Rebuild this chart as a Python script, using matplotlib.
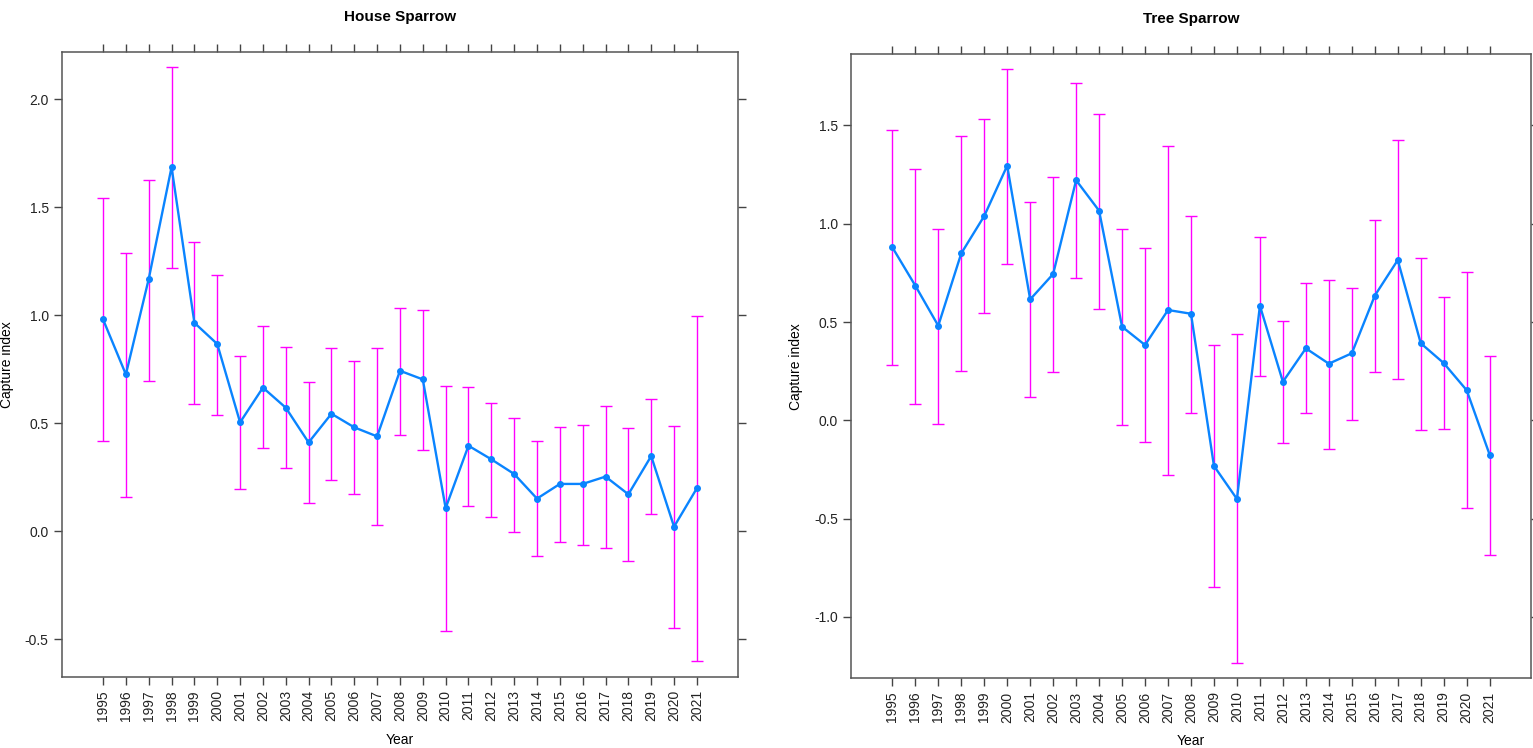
import numpy as np
import matplotlib.pyplot as plt

plt.rcParams['font.family'] = ['Liberation Sans', 'DejaVu Sans']
plt.rcParams['axes.unicode_minus'] = False

years = list(range(1995, 2022))

# House Sparrow capture index with lower / upper limits
house_idx = [0.98, 0.725, 1.167, 1.685, 0.964, 0.866, 0.503, 0.664, 0.571, 0.41,
             0.543, 0.48, 0.438, 0.742, 0.702, 0.106, 0.395, 0.332, 0.264, 0.15,
             0.218, 0.218, 0.252, 0.17, 0.347, 0.02, 0.198]
house_lo = [0.415, 0.159, 0.694, 1.218, 0.588, 0.537, 0.194, 0.384, 0.29, 0.13,
            0.235, 0.171, 0.026, 0.443, 0.377, -0.463, 0.116, 0.065, -0.005, -0.117,
            -0.052, -0.065, -0.077, -0.139, 0.077, -0.451, -0.602]
house_hi = [1.54, 1.286, 1.626, 2.147, 1.336, 1.187, 0.812, 0.947, 0.852, 0.691,
            0.847, 0.786, 0.847, 1.034, 1.022, 0.67, 0.667, 0.591, 0.525, 0.415,
            0.481, 0.489, 0.577, 0.478, 0.611, 0.485, 0.995]

# Tree Sparrow
tree_idx = [0.88, 0.685, 0.481, 0.849, 1.039, 1.295, 0.615, 0.744, 1.221, 1.066,
            0.476, 0.383, 0.561, 0.542, -0.232, -0.4, 0.583, 0.196, 0.366, 0.288,
            0.341, 0.634, 0.815, 0.392, 0.291, 0.153, -0.175]
tree_lo = [0.281, 0.081, -0.019, 0.249, 0.544, 0.795, 0.12, 0.246, 0.722, 0.566,
           -0.022, -0.112, -0.277, 0.039, -0.848, -1.236, 0.225, -0.117, 0.036, -0.148,
           0.003, 0.247, 0.208, -0.049, -0.044, -0.446, -0.683]
tree_hi = [1.475, 1.28, 0.971, 1.445, 1.534, 1.785, 1.109, 1.238, 1.714, 1.556,
           0.971, 0.876, 1.395, 1.038, 0.381, 0.437, 0.934, 0.505, 0.697, 0.714,
           0.671, 1.02, 1.424, 0.824, 0.626, 0.753, 0.326]

house_ticks = [-0.5, 0.0, 0.5, 1.0, 1.5, 2.0]
tree_ticks = [-1.0, -0.5, 0.0, 0.5, 1.0, 1.5]


def panel(ax, title, idx, lo, hi, yticks, ylim):
    idx = np.array(idx)
    err = [idx - np.array(lo), np.array(hi) - idx]
    ax.errorbar(years, idx, yerr=err, fmt='none', ecolor='#ff00ff',
                elinewidth=1.0, capsize=4.3, capthick=1.0, zorder=2)
    ax.plot(years, idx, '-o', color='#0a84ff', lw=1.7, ms=4, zorder=3)
    ax.set_xlim(1993.2, 2022.8)
    ax.set_ylim(*ylim)
    ax.set_xticks(years)
    ax.set_xticklabels([str(y) for y in years], rotation=90, fontsize=10)
    ax.set_yticks(yticks)
    ax.set_yticklabels(['%.1f' % t for t in yticks], fontsize=10)
    ax.tick_params(direction='out', length=6, width=1, color='#444444',
                   top=True, right=True, labeltop=False, labelright=False,
                   labelcolor='#222222')
    for s in ax.spines.values():
        s.set_color('#555555')
        s.set_linewidth(1.1)
    ax.set_title(title, fontsize=11, fontweight='bold', pad=22)
    ax.set_xlabel('Year', fontsize=10, labelpad=8)
    ax.set_ylabel('Capture index', fontsize=10, labelpad=8)


fig = plt.figure(figsize=(15.33, 7.48), dpi=100)
ax1 = fig.add_axes([0.0404, 0.0949, 0.441, 0.8356])
ax2 = fig.add_axes([0.5551, 0.0932, 0.4436, 0.8346])

panel(ax1, 'House Sparrow', house_idx, house_lo, house_hi, house_ticks, (-0.676, 2.218))
panel(ax2, 'Tree Sparrow', tree_idx, tree_lo, tree_hi, tree_ticks, (-1.312, 1.863))

fig.savefig('out.png', dpi=100)
